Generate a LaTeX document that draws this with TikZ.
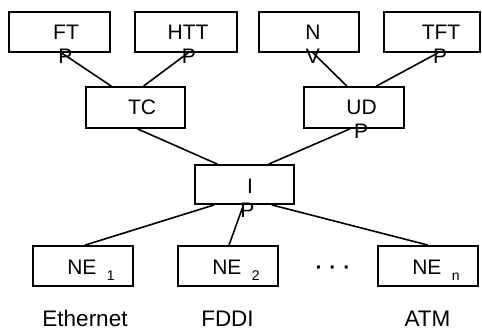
\documentclass[tikz,border=0pt]{standalone}
\usepackage{fontspec}
\setmainfont{Liberation Sans}
\usetikzlibrary{calc}
\tikzset{
  layer/.style={draw, line width=1.8pt, inner sep=0pt, minimum width=100pt, minimum height=40pt},
  lbl/.style={anchor=base, inner sep=0pt, font=\fontsize{21}{24}\selectfont},
  net/.style={anchor=base, inner sep=0pt, font=\fontsize{22.5}{26}\selectfont},
  link/.style={line width=1.6pt},
}
\newcommand{\nesub}[1]{NE\hspace{10.5pt}\raisebox{-6pt}{\fontsize{14}{14}\selectfont #1}}
\begin{document}
\begin{tikzpicture}[x=1pt, y=-1pt]
\useasboundingbox (0,0) rectangle (482,330);

% protocol boxes
\node[layer, minimum width=101pt] (ft)   at (59.5,32) {};
\node[layer, minimum width=102pt] (htt)  at (186,32) {};
\node[layer] (nv)   at (309,32) {};
\node[layer, minimum width=96pt]  (tftp) at (432,32) {};
\node[layer, minimum width=99pt, minimum height=41pt] (tc)  at (135.5,107.5) {};
\node[layer, minimum height=41pt] (udp) at (354,107.5) {};
\node[layer, minimum width=99pt, minimum height=39pt] (ip)  at (244.5,184.5) {};
\node[layer] (ne1) at (83,266) {};
\node[layer] (ne2) at (228,266) {};
\node[layer] (nen) at (428,266) {};

% box texts
\node[lbl] (ft-a)   at (66,39)  {FT};
\node[lbl] (ft-b)   at (65.5,63) {P};
\node[lbl] (htt-a)  at (188,39) {HTT};
\node[lbl] (htt-b)  at (189,63) {P};
\node[lbl] (nv-a)   at (313,39) {N};
\node[lbl] (nv-b)   at (313,63) {V};
\node[lbl] (tftp-a) at (441,39) {TFT};
\node[lbl] (tftp-b) at (440,63) {P};
\node[lbl] (tc-a)   at (142,114) {TC};
\node[lbl] (udp-a)  at (361.5,114) {UD};
\node[lbl] (udp-b)  at (361,138) {P};
\node[lbl] (ip-a)   at (250,193) {I};
\node[lbl] (ip-b)   at (247.5,217) {P};
\node[lbl] (ne1-a)  at (91,274)  {\nesub{1}};
\node[lbl] (ne2-a)  at (236,274) {\nesub{2}};
\node[lbl] (nen-a)  at (436,274) {\nesub{n}};
\node[lbl, font=\fontsize{21}{24}\selectfont\bfseries] (dots) at (333,274) {·\,\,·\,\,·};

% network names
\node[net] (eth)  at (85,326)    {Ethernet};
\node[net] (fddi) at (227.5,326) {FDDI};
\node[net] (atm)  at (427.5,326) {ATM};

% connectors
\draw[link] ($(ft.south west)!0.52!(ft.south east)$)   -- ($(tc.north west)!0.26!(tc.north east)$);
\draw[link] ($(htt.south west)!0.52!(htt.south east)$) -- ($(tc.north west)!0.58!(tc.north east)$);
\draw[link] ($(nv.south west)!0.54!(nv.south east)$)   -- ($(udp.north west)!0.43!(udp.north east)$);
\draw[link] ($(tftp.south west)!0.56!(tftp.south east)$) -- ($(udp.north west)!0.72!(udp.north east)$);
\draw[link] ($(tc.south west)!0.52!(tc.south east)$)   -- ($(ip.north west)!0.23!(ip.north east)$);
\draw[link] ($(udp.south west)!0.46!(udp.south east)$) -- ($(ip.north west)!0.74!(ip.north east)$);
\draw[link] ($(ip.south west)!0.20!(ip.south east)$)   -- ($(ne1.north west)!0.52!(ne1.north east)$);
\draw[link] ($(ip.south west)!0.49!(ip.south east)$)   -- ($(ne2.north west)!0.51!(ne2.north east)$);
\draw[link] ($(ip.south west)!0.77!(ip.south east)$)   -- ($(nen.north west)!0.50!(nen.north east)$);
\end{tikzpicture}
\end{document}
